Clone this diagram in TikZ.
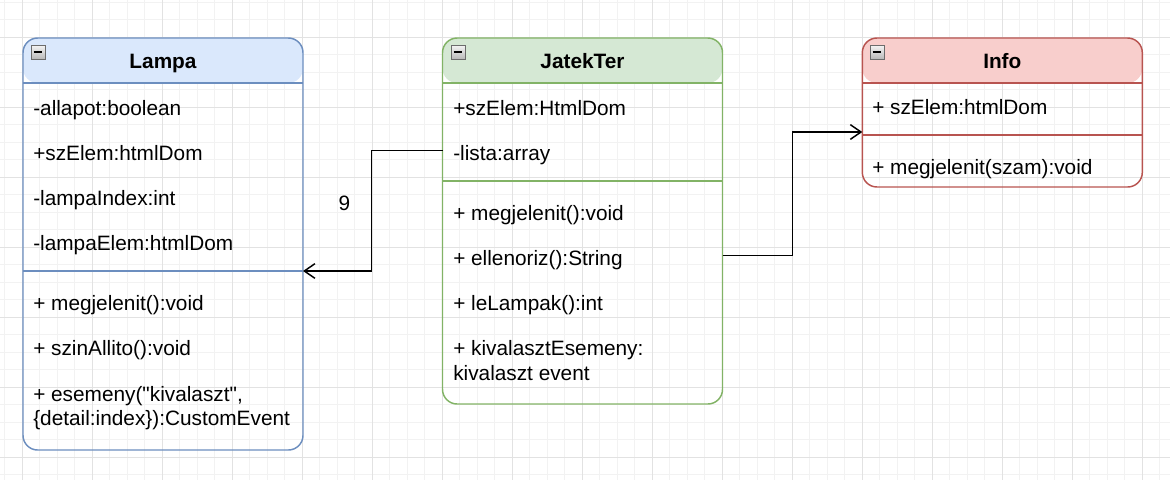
\documentclass[tikz,border=0pt]{standalone}
\usepackage{fontspec}
\setmainfont{Liberation Sans}
\usepackage{xcolor}
\usetikzlibrary{arrows.meta}

\definecolor{lampafill}{HTML}{DAE8FC}
\definecolor{lampaline}{HTML}{6C8EBF}
\definecolor{jtfill}{HTML}{D5E8D4}
\definecolor{jtline}{HTML}{82B366}
\definecolor{infofill}{HTML}{F8CECC}
\definecolor{infoline}{HTML}{B85450}
\definecolor{gridminor}{HTML}{F2F2F2}
\definecolor{gridmajor}{HTML}{E2E2E2}

% straight double quote, past the TeX ligature mapping
\newcommand{\dq}{\XeTeXglyph\XeTeXglyphindex"quotedbl"\relax}

\begin{document}
\begin{tikzpicture}[x=0.75pt, y=-0.75pt,
        classbox/.style={draw, line width=1.1pt, rounded corners=11pt, inner sep=0pt, outer sep=0pt, minimum width=210pt},
        member/.style={anchor=base west, inner sep=0pt, text height=14.25pt, text depth=0pt, font=\fontsize{15.6}{19.5}\selectfont},
        title/.style={anchor=base, inner sep=0pt, font=\fontsize{15.6}{19.5}\selectfont\bfseries},
        toggle/.style={draw=gray!85!black, line width=0.6pt, top color=gray!8, bottom color=gray!55, minimum size=10.5pt, inner sep=0pt},
        assoc/.style={line width=1.1pt, -{Straight Barb[length=8pt, width=11pt]}}
    ]
        \useasboundingbox (0,0) rectangle (1170,480);

        % grid
        \foreach \i in {0,...,66} \draw[gridminor, line width=0.75pt] ({4.8+17.5*\i},0) -- ({4.8+17.5*\i},480);
        \foreach \i in {0,...,27} \draw[gridminor, line width=0.75pt] (0,{2.3+17.5*\i}) -- (1170,{2.3+17.5*\i});
        \foreach \i in {0,...,16} \draw[gridmajor, line width=0.75pt] ({22.3+70*\i},0) -- ({22.3+70*\i},480);
        \foreach \i in {0,...,6} \draw[gridmajor, line width=0.75pt] (0,{37.3+70*\i}) -- (1170,{37.3+70*\i});

        % Lampa
        \node[classbox, draw=lampaline, minimum height=309pt,
            path picture={\fill[lampafill] (path picture bounding box.north west) rectangle ([yshift=-33.75pt]path picture bounding box.north east);}]
            (lampa) at (163,244) {};
        \coordinate (lampa-sep) at ([yshift=-174.75pt]lampa.north west);
        \draw[lampaline, line width=1.1pt] ([yshift=-33.75pt]lampa.north west) -- ([yshift=-33.75pt]lampa.north east);
        \draw[lampaline, line width=1.1pt] (lampa-sep) -- (lampa-sep -| lampa.east);
        \node[title] (lampa-title) at (163,68) {Lampa};
        \node[member] (lampa-allapot) at (33,115) {-allapot:boolean};
        \node[member] (lampa-szelem) at (33,160) {+szElem:htmlDom};
        \node[member] (lampa-index) at (33,205) {-lampaIndex:int};
        \node[member] (lampa-elem) at (33,250) {-lampaElem:htmlDom};
        \node[member] (lampa-megj) at (33,310) {+ megjelenit():void};
        \node[member] (lampa-szin) at (33,355) {+ szinAllito():void};
        \node[member] (lampa-esem) at (33,401) {+ esemeny(\dq kivalaszt\dq,};
        \node[member] (lampa-esem2) at (33,425) {\{detail:index\}):CustomEvent};

        % JatekTer
        \node[classbox, draw=jtline, minimum height=274.5pt,
            path picture={\fill[jtfill] (path picture bounding box.north west) rectangle ([yshift=-33.75pt]path picture bounding box.north east);}]
            (jatekter) at (582.5,221) {};
        \coordinate (jt-sep) at ([yshift=-107.25pt]jatekter.north west);
        \draw[jtline, line width=1.1pt] ([yshift=-33.75pt]jatekter.north west) -- ([yshift=-33.75pt]jatekter.north east);
        \draw[jtline, line width=1.1pt] (jt-sep) -- (jt-sep -| jatekter.east);
        \node[title] (jt-title) at (582.5,68) {JatekTer};
        \node[member] (jt-szelem) at (453,115) {+szElem:HtmlDom};
        \node[member] (jt-lista) at (453,160) {-lista:array};
        \node[member] (jt-megj) at (453,220) {+ megjelenit():void};
        \node[member] (jt-ell) at (453,265) {+ ellenoriz():String};
        \node[member] (jt-le) at (453,310) {+ leLampak():int};
        \node[member] (jt-kiv) at (453,355) {+ kivalasztEsemeny:};
        \node[member] (jt-kiv2) at (453,380) {kivalaszt event};

        % Info
        \node[classbox, draw=infoline, minimum height=111.75pt,
            path picture={\fill[infofill] (path picture bounding box.north west) rectangle ([yshift=-33.75pt]path picture bounding box.north east);}]
            (info) at (1002.3,112.5) {};
        \coordinate (info-sep) at ([yshift=-72.75pt]info.north west);
        \draw[infoline, line width=1.1pt] ([yshift=-33.75pt]info.north west) -- ([yshift=-33.75pt]info.north east);
        \draw[infoline, line width=1.1pt] (info-sep) -- (info-sep -| info.east);
        \node[title] (info-title) at (1002.3,68) {Info};
        \node[member] (info-szelem) at (872,114) {+ szElem:htmlDom};
        \node[member] (info-megj) at (872,174) {+ megjelenit(szam):void};

        % collapse buttons
        \foreach \n/\x in {lampa/38, jt/458, info/877} {
            \node[toggle] (\n-tgl) at (\x,52) {};
            \draw[line width=1.3pt] ([xshift=2.2pt]\n-tgl.west) -- ([xshift=-2.2pt]\n-tgl.east);
        }

        % connectors
        \draw[assoc] (jatekter.west |- jt-lista) -- ++(-71,0)
            |- node[pos=0.22, left=15.5pt, inner sep=0pt, font=\fontsize{15.6}{19.5}\selectfont] (lampa-mult) {9}
            (lampa.east |- lampa-sep);
        \draw[assoc] (jatekter.east |- jt-ell) -- ++(70,0) |- ([yshift=2.25pt]info.west |- info-sep);
    \end{tikzpicture}
\end{document}
